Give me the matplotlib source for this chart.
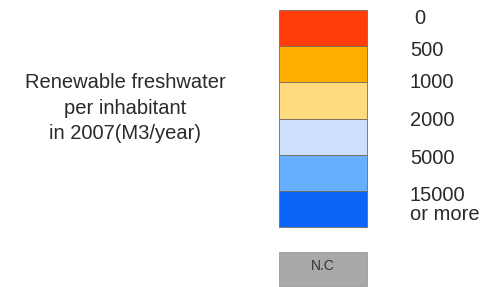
import matplotlib.pyplot as plt

# legend classes (top to bottom)
bounds = ["0", "500", "1000", "2000", "5000", "15000\nor more"]
colors = ["#ff3c0a", "#ffae00", "#ffdb80", "#cde0fb", "#66b0ff", "#0a64f5"]
nc_label = "N.C"
nc_color = "#a9a9a9"
title = "Renewable freshwater\nper inhabitant\nin 2007(M3/year)"

plt.rcParams['font.family'] = ['Liberation Sans', 'DejaVu Sans']

fig = plt.figure(figsize=(4.91, 2.87), dpi=100)
ax = fig.add_axes([0, 0, 1, 1])
ax.set_xlim(0, 491)
ax.set_ylim(287, 0)
ax.axis('off')

# colour bands
top, h = 10, 36.2
x0, w = 279, 88
for i, c in enumerate(colors):
    ax.bar(x0, h, width=w, bottom=top + i * h, align='edge', color=c,
           edgecolor='#7a6a5a', linewidth=0.6)

# class labels
label_y = [18, 51, 83, 120, 159, 205]
for lab, y in zip(bounds, label_y):
    xx = 414 if lab == "0" else 410
    ax.text(xx, y, lab, fontsize=14.5, va='center', ha='left', color='#2a2a2a',
            linespacing=1.05)

# not classified box
ax.bar(x0, 34, width=w, bottom=252, align='edge', color=nc_color,
       edgecolor='#9a9a9a', linewidth=0.6)
ax.text(x0 + w / 2, 266, nc_label, fontsize=10, ha='center', va='center', color='#333333')

ax.text(125, 108, title, fontsize=14.5, ha='center', va='center', color='#2a2a2a',
        linespacing=1.45)

plt.savefig("out.png", dpi=100)
